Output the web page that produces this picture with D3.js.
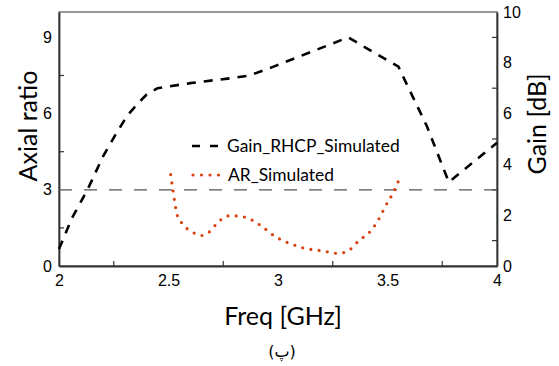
<!DOCTYPE html>
<html>
<head>
<meta charset="utf-8">
<script src="https://cdn.jsdelivr.net/npm/d3@7"></script>
<style>
  html, body { margin: 0; padding: 0; background: #fff; }
  svg { display: block; font-family: Lato, "Open Sans", "DejaVu Sans", sans-serif; }
</style>
</head>
<body>
<svg id="chart" width="559" height="366"></svg>
<script>
// Simulated RHCP gain (dB) against frequency (GHz)
const gainFreq = [2.0, 2.06, 2.13, 2.2, 2.26, 2.31, 2.36, 2.40, 2.45, 2.6, 2.79, 2.87, 2.98, 3.32, 3.55, 3.58, 3.68, 3.78, 4.0];
const gainDb   = [0.67, 1.9, 3.0, 4.3, 5.2, 5.9, 6.4, 6.75, 7.0, 7.2, 7.4, 7.5, 7.85, 9.0, 7.85, 7.3, 5.5, 3.3, 4.85];

// Simulated axial ratio against frequency (GHz)
const arFreq = [2.51, 2.52, 2.54, 2.56, 2.61, 2.65, 2.68, 2.73, 2.77, 2.81, 2.85, 2.92, 2.98, 3.01, 3.05, 3.12, 3.20, 3.27, 3.31, 3.37, 3.43, 3.47, 3.49, 3.53, 3.555];
const arVal  = [3.6, 3.0, 2.0, 1.7, 1.33, 1.2, 1.3, 1.75, 1.97, 1.97, 1.92, 1.6, 1.2, 1.05, 0.9, 0.7, 0.6, 0.5, 0.55, 1.0, 1.45, 2.0, 2.35, 2.95, 3.45];

// Axis ticks
const xTickLabels = [2, 2.5, 3, 3.5, 4];
const xMinorTicks = [2.25, 2.75, 3.25, 3.75];
const arTickLabels = [0, 3, 6, 9];
const arMinorTicks = [1.5, 4.5, 7.5];
const gainTickLabels = [0, 2, 4, 6, 8, 10];
const gainMinorTicks = [1, 3, 5, 7, 9];
const arThreshold = 3;

const seriesNames = ["Gain_RHCP_Simulated", "AR_Simulated"];

const svg = d3.select("#chart");
const plotLeft = 59, plotRight = 497, plotTop = 12, plotBottom = 266;

const x = d3.scaleLinear().domain([2, 4]).range([plotLeft, plotRight]);
const yAR = d3.scaleLinear().domain([0, 10]).range([plotBottom, plotTop]);
const yGain = d3.scaleLinear().domain([0, 10]).range([plotBottom, plotTop]);

const axisColor = "#333";
const tickFont = 16;
const titleFont = 25;

// Frame
svg.append("rect")
  .attr("x", plotLeft).attr("y", plotTop)
  .attr("width", plotRight - plotLeft).attr("height", plotBottom - plotTop)
  .attr("fill", "none").attr("stroke", "#555").attr("stroke-width", 1.2);

// Bottom axis
const xAxis = svg.append("g").attr("transform", `translate(0,${plotBottom})`)
  .call(d3.axisBottom(x).tickValues(xTickLabels).tickSize(0).tickPadding(9)
    .tickFormat(d3.format("")));
xAxis.select(".domain").attr("stroke", axisColor).attr("stroke-width", 1.8);
xAxis.selectAll("text").attr("font-size", tickFont).attr("fill", "#000").attr("font-family", null);
svg.append("g").selectAll("line").data(xMinorTicks).join("line")
  .attr("x1", d => x(d)).attr("x2", d => x(d))
  .attr("y1", plotBottom).attr("y2", plotBottom - 5)
  .attr("stroke", axisColor).attr("stroke-width", 1.2);

// Left axis (axial ratio)
const yL = svg.append("g").attr("transform", `translate(${plotLeft},0)`)
  .call(d3.axisLeft(yAR).tickValues(arTickLabels).tickSize(0).tickPadding(7));
yL.select(".domain").attr("stroke", axisColor).attr("stroke-width", 1.8);
yL.selectAll("text").attr("font-size", tickFont).attr("fill", "#000").attr("font-family", null);
svg.append("g").selectAll("line").data(arMinorTicks).join("line")
  .attr("x1", plotLeft).attr("x2", plotLeft + 5)
  .attr("y1", d => yAR(d)).attr("y2", d => yAR(d))
  .attr("stroke", axisColor).attr("stroke-width", 1.2);

// Right axis (gain)
const yR = svg.append("g").attr("transform", `translate(${plotRight},0)`)
  .call(d3.axisRight(yGain).tickValues(gainTickLabels).tickSize(0).tickPadding(6));
yR.select(".domain").attr("stroke", axisColor).attr("stroke-width", 1.8);
yR.selectAll("text").attr("font-size", tickFont).attr("fill", "#000").attr("font-family", null);
svg.append("g").selectAll("line").data(gainMinorTicks).join("line")
  .attr("x1", plotRight).attr("x2", plotRight - 5)
  .attr("y1", d => yGain(d)).attr("y2", d => yGain(d))
  .attr("stroke", axisColor).attr("stroke-width", 1.2);

// AR = 3 reference line
svg.append("line")
  .attr("x1", plotLeft).attr("x2", plotRight)
  .attr("y1", yAR(arThreshold)).attr("y2", yAR(arThreshold))
  .attr("stroke", "#555").attr("stroke-width", 1.3)
  .attr("stroke-dasharray", "13 12");

// Gain curve
const gainLine = d3.line().x(d => x(d[0])).y(d => yGain(d[1]));
svg.append("path")
  .datum(d3.zip(gainFreq, gainDb))
  .attr("d", gainLine)
  .attr("fill", "none").attr("stroke", "#000").attr("stroke-width", 2.6)
  .attr("stroke-dasharray", "9 8");

// Axial ratio curve
const arLine = d3.line().curve(d3.curveMonotoneX).x(d => x(d[0])).y(d => yAR(d[1]));
const arColor = "#d9410f";
svg.append("path")
  .datum(d3.zip(arFreq, arVal))
  .attr("d", arLine)
  .attr("fill", "none").attr("stroke", arColor).attr("stroke-width", 3.2)
  .attr("stroke-linecap", "round")
  .attr("stroke-dasharray", "0 8.3");

// Legend
const legend = svg.append("g");
legend.append("line")
  .attr("x1", 192).attr("x2", 219).attr("y1", 146).attr("y2", 146)
  .attr("stroke", "#000").attr("stroke-width", 2.6).attr("stroke-dasharray", "8 10");
legend.append("text").attr("x", 227).attr("y", 152)
  .attr("font-size", 17.4).text(seriesNames[0]);
legend.append("line")
  .attr("x1", 193).attr("x2", 220).attr("y1", 175).attr("y2", 175)
  .attr("stroke", arColor).attr("stroke-width", 3.2)
  .attr("stroke-linecap", "round").attr("stroke-dasharray", "0 8.5");
legend.append("text").attr("x", 228).attr("y", 181)
  .attr("font-size", 17.4).text(seriesNames[1]);

// Axis titles
svg.append("text")
  .attr("transform", `translate(37,126) rotate(-90)`)
  .attr("text-anchor", "middle").attr("font-size", titleFont).text("Axial ratio");
svg.append("text")
  .attr("transform", `translate(546,124) rotate(-90)`)
  .attr("text-anchor", "middle").attr("font-size", titleFont).text("Gain [dB]");
svg.append("text")
  .attr("x", 283).attr("y", 325)
  .attr("text-anchor", "middle").attr("font-size", titleFont).text("Freq [GHz]");
svg.append("text")
  .attr("x", 282).attr("y", 357)
  .attr("text-anchor", "middle").attr("font-size", 16)
  .attr("font-family", "'DejaVu Sans', sans-serif").text("(پ)");
</script>
</body>
</html>
